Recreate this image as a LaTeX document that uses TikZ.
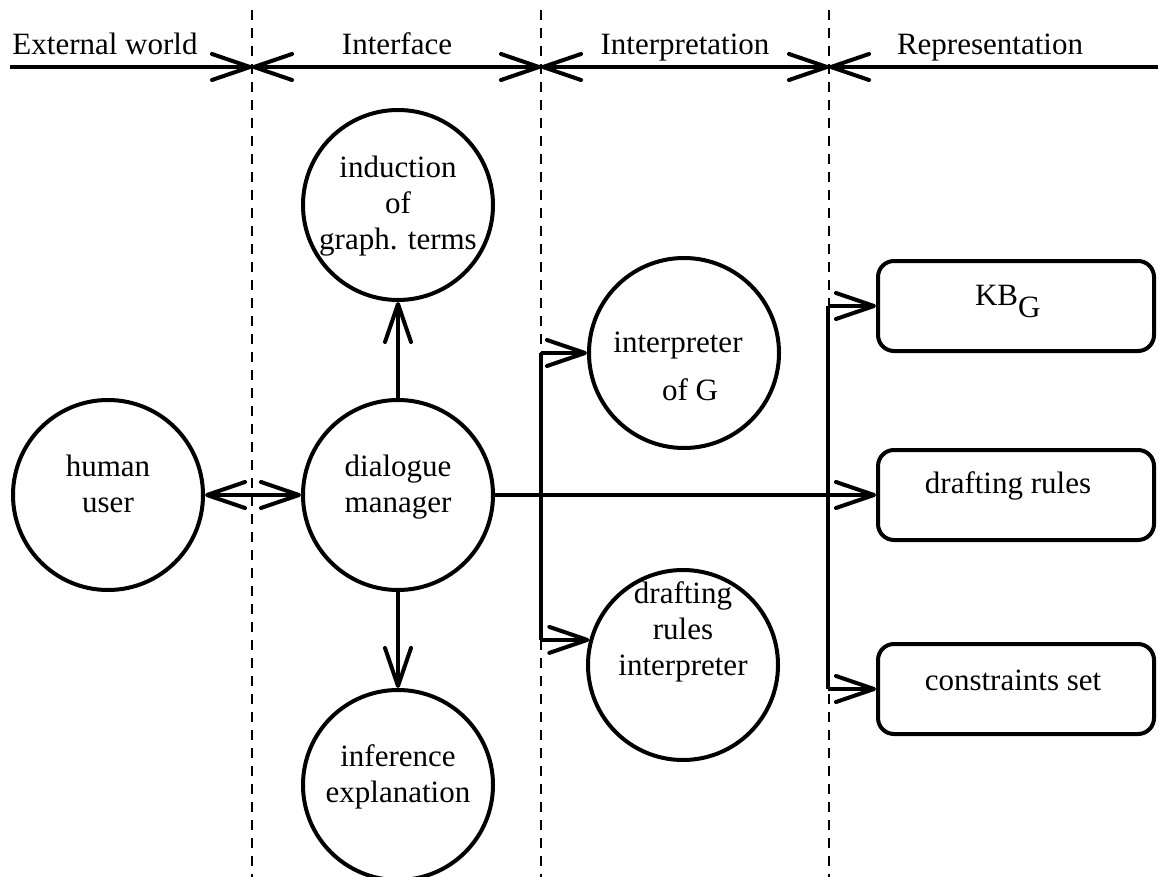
\documentclass[tikz,border=0pt]{standalone}
\usepackage{fontspec}
\setmainfont{Liberation Serif}
\usetikzlibrary{arrows.meta}
\begin{document}
\begin{tikzpicture}[x=1pt,y=-1pt,line width=4pt,
  barb/.tip={Straight Barb[length=38pt,width=26pt,line width=4pt,round]},
  tip/.style={-barb},
  dtip/.style={barb-barb},
  circ/.style={circle,draw,line width=4pt,minimum size=190pt,inner sep=0pt},
  box/.style={draw,line width=4pt,rounded corners=16pt,minimum width=276pt,minimum height=90pt,inner sep=0pt},
  txt/.style={align=center,inner sep=0pt,font=\fontsize{31}{36}\selectfont},
  divider/.style={line width=1.8pt,dash pattern=on 10pt off 8pt}]
\useasboundingbox (0,0) rectangle (1158,877);
% dividers
\coordinate (d1t) at (252,10); \coordinate (d1b) at (252,877);
\coordinate (d2t) at (541,10); \coordinate (d2b) at (541,877);
\coordinate (d3t) at (829,10); \coordinate (d3b) at (829,877);
\draw[divider] (d1t) -- (d1b);
\draw[divider] (d2t) -- (d2b);
\draw[divider] (d3t) -- (d3b);
% top line
\coordinate (t0) at (10,67); \coordinate (t1) at (252,67);
\coordinate (t2) at (541,67); \coordinate (t3) at (829,67);
\coordinate (t4) at (1158,67);
\draw[tip] (t0) -- (t1);
\draw[dtip] (t1) -- (t2);
\draw[dtip] (t2) -- (t3);
\draw[tip] (t4) -- (t3);
\node[txt,anchor=base] (l1) at (105,55) {External world};
\node[txt,anchor=base] (l2) at (397,55) {Interface};
\node[txt,anchor=base] (l3) at (685,55) {Interpretation};
\node[txt,anchor=base] (l4) at (990,55) {Representation};
% circles
\node[circ] (human) at (108,495) {};
\node[txt] (humant) at (108,484) {human\\user};
\node[circ] (dm) at (398,495) {};
\node[txt] (dmt) at (398,487) {dialogue\\manager};
\node[circ] (ind) at (398,205) {};
\node[txt] (indt) at (398,206) {induction\\of\\graph. terms};
\node[circ] (interp) at (684,353) {};
\node[txt,anchor=base] (interpt1) at (678,352) {interpreter};
\node[txt,anchor=base] (interpt2) at (690,400) {of G};
\node[circ] (dri) at (683,665) {};
\node[txt] (drit) at (683,632) {drafting\\rules\\interpreter};
\node[circ] (inf) at (398,785) {};
\node[txt] (inft) at (398,777) {inference\\explanation};
% boxes
\node[box] (kb) at (1016,306) {};
\node[txt,anchor=base west] (kbt) at (973,305) {KB\raisebox{-12pt}{G}};
\node[box] (drules) at (1016,495) {};
\node[txt] (drulest) at (1008,486) {drafting rules};
\node[box] (cs) at (1016,689) {};
\node[txt] (cst) at (1013,680) {constraints set};
% connectors
\draw[dtip] (human.east) -- (dm.west);
\draw[tip] (dm.north) -- (ind.south);
\draw[tip] (dm.south) -- (inf.north);
\draw[tip] (dm.east) -- (drules.west);
\coordinate (j1) at (interp.west -| d2t);
\coordinate (j2) at (dri.165 -| d2t);
\draw (j1) -- (j2);
\draw[tip] (j1) -- (interp.west);
\draw[tip] (j2) -- (dri.165);
\coordinate (k1) at (kb.west -| 828,0);
\coordinate (k2) at (cs.west -| 828,0);
\draw (k1) -- (k2);
\draw[tip] (k1) -- (kb.west);
\draw[tip] (k2) -- (cs.west);
\end{tikzpicture}
\end{document}
